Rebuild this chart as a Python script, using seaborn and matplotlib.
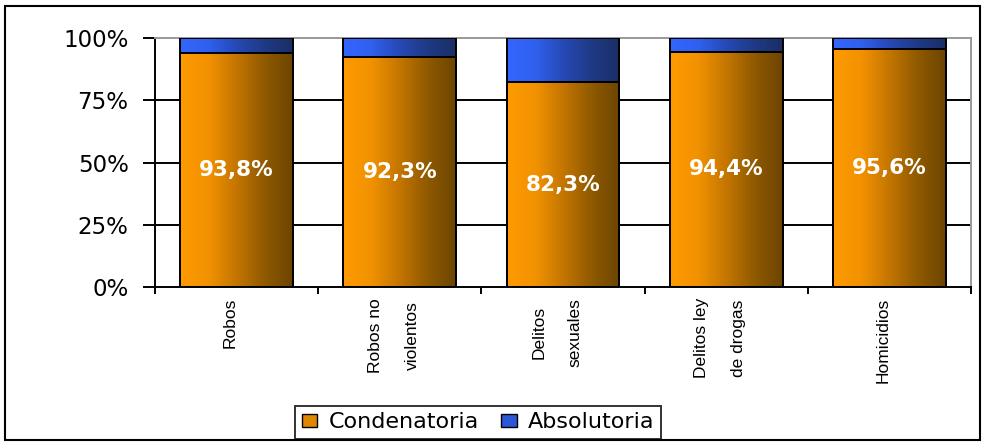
import numpy as np
import pandas as pd
import matplotlib
matplotlib.use("Agg")
import matplotlib.pyplot as plt
import seaborn as sns
from matplotlib.patches import Patch, Rectangle
from matplotlib.colors import LinearSegmentedColormap
from matplotlib.transforms import ScaledTranslation

categories = ["Robos", "Robos no\nviolentos", "Delitos\nsexuales", "Delitos ley\nde drogas", "Homicidios"]
condenatoria = [93.8, 92.3, 82.3, 94.4, 95.6]
absolutoria = [100 - v for v in condenatoria]
labels = ["93,8%", "92,3%", "82,3%", "94,4%", "95,6%"]
yticks = [0, 25, 50, 75, 100]
ytick_labels = ["0%", "25%", "50%", "75%", "100%"]

sns.set_theme(style="white")
plt.rcParams["font.family"] = ["DejaVu Sans"]
plt.rcParams["text.color"] = "black"
plt.rcParams["xtick.color"] = "black"
plt.rcParams["ytick.color"] = "black"
plt.rcParams["axes.labelcolor"] = "black"

df = pd.DataFrame({"cat": categories, "cond": condenatoria, "abs": absolutoria})
df["total"] = df["cond"] + df["abs"]

fig = plt.figure(figsize=(9.83, 4.43), dpi=100)
ax = fig.add_axes([155/983, 1-287/443, (971-155)/983, (287-38)/443])

w = 0.69
sns.barplot(data=df, x="cat", y="total", ax=ax, color="#3366FF", width=w, order=categories)
sns.barplot(data=df, x="cat", y="cond", ax=ax, color="#FF9900", width=w, order=categories)

orange_cmap = LinearSegmentedColormap.from_list("o", ["#FF9A00", "#F29200", "#C47500", "#8F5A00", "#6C4400"])
blue_cmap = LinearSegmentedColormap.from_list("b", ["#3366FF", "#3060EE", "#2649B5", "#1F3A85", "#1A2E66"])
grad = np.linspace(0, 1, 256).reshape(1, -1)

n = len(categories)
patches = list(ax.patches)
for i, p in enumerate(patches):
    cmap = blue_cmap if i < n else orange_cmap
    x0, y0 = p.get_x(), p.get_y()
    x1, y1 = x0 + p.get_width(), y0 + p.get_height()
    ax.imshow(grad, cmap=cmap, aspect="auto", extent=(x0, x1, y0, y1), zorder=2, interpolation="bilinear")
    p.set_facecolor("none")
    p.set_edgecolor("black")
    p.set_linewidth(1.4)
    p.set_zorder(3)

for i, (v, lab) in enumerate(zip(condenatoria, labels)):
    ax.text(i, v / 2, lab, ha="center", va="center", color="white", fontsize=15.5,
            fontweight="bold", zorder=4)

ax.set_xlim(-0.5, n - 0.5)
ax.set_ylim(0, 100)
for yv in yticks[1:-1]:
    ax.axhline(yv, color="black", lw=1.4, zorder=1)

ax.set_yticks(yticks)
ax.set_yticklabels(ytick_labels, fontsize=16.5, color="black")
ax.tick_params(axis="y", direction="out", length=9, width=1.4, color="black", left=True, pad=10)

ax.set_xticks(np.arange(-0.5, n, 1.0))
ax.set_xticklabels([])
ax.set_xticks(np.arange(n), minor=True)
ax.set_xticklabels(categories, minor=True, rotation=90, fontsize=12.5, va="top", ha="center",
                   multialignment="center", linespacing=2.8, family="Liberation Sans", color="black")
ax.tick_params(axis="x", which="major", direction="out", length=5, width=1.4, color="black", bottom=True)
ax.tick_params(axis="x", which="minor", length=0, pad=8)
for lab in ax.get_xticklabels(minor=True):
    lab.set_transform(lab.get_transform() + ScaledTranslation(-6/100, 0, fig.dpi_scale_trans))
ax.set_xlabel("")
ax.set_ylabel("")

for s in ["left", "bottom"]:
    ax.spines[s].set_color("black")
    ax.spines[s].set_linewidth(1.4)
for s in ["top", "right"]:
    ax.spines[s].set_color("#999999")
    ax.spines[s].set_linewidth(1.4)
    ax.spines[s].set_visible(True)

handles = [Patch(facecolor="#E08700", edgecolor="black", label="Condenatoria"),
           Patch(facecolor="#2C58D8", edgecolor="black", label="Absolutoria")]
leg = fig.legend(handles=handles, loc="center", bbox_to_anchor=(478/983, 1-422.5/443), ncol=2,
                 fontsize=16, frameon=True, fancybox=False, edgecolor="black",
                 handlelength=0.7, handleheight=0.5, handletextpad=0.5, columnspacing=1.0,
                 borderpad=0.3, borderaxespad=0, labelcolor="black")
leg.get_frame().set_linewidth(1.4)
leg.get_frame().set_edgecolor("black")

fig.patches.append(Rectangle((5/983, 3/443), 975/983, 434/443, transform=fig.transFigure,
                             fill=False, edgecolor="black", lw=1.5))

fig.savefig("out.png", dpi=100)
